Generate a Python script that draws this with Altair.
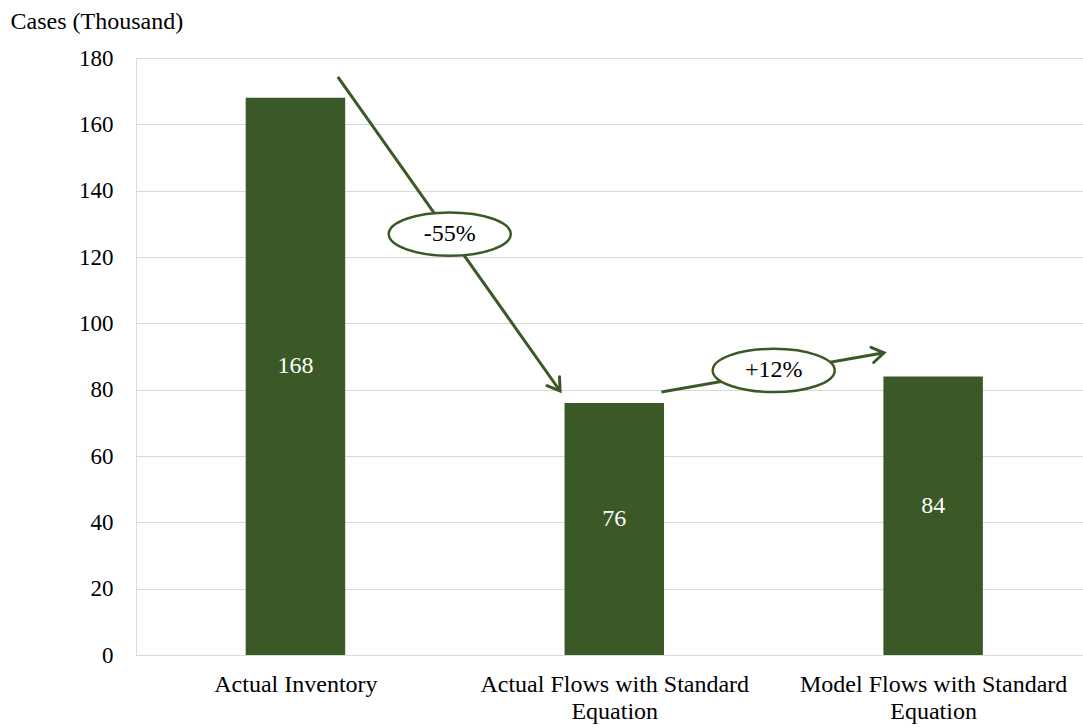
import math
import altair as alt
import pandas as pd

# Bar categories and values (thousand cases)
categories = ["Actual Inventory", "Actual Flows with Standard\nEquation", "Model Flows with Standard\nEquation"]
values = [168, 76, 84]

# Change annotations: arrow start/end points and label bubbles
arrow_x1 = [0.633, 1.648]
arrow_y1 = [174.3, 79.3]
arrow_x2 = [1.330, 2.346]
arrow_y2 = [79.6, 91.1]
bubble_x = [0.984, 2.0]
bubble_y = [126.9, 85.8]
bubble_text = ["-55%", "+12%"]

GREEN = "#3B5926"
GRID = "#d9d9d9"
FONT = "Liberation Serif"

W, H = 947, 597
X_DOMAIN = [0, 2.97]
Y_DOMAIN = [0, 180]
BAR_HALF = 0.156

px_x = W / (X_DOMAIN[1] - X_DOMAIN[0])
px_y = H / (Y_DOMAIN[1] - Y_DOMAIN[0])

centers = [i + 0.5 for i in range(len(categories))]
bars = pd.DataFrame({
    "x": [c - BAR_HALF for c in centers],
    "x2": [c + BAR_HALF for c in centers],
    "c": centers,
    "v": values,
    "half": [v / 2 for v in values],
    "label": [str(v) for v in values],
})

angles = []
for x1, y1, x2, y2 in zip(arrow_x1, arrow_y1, arrow_x2, arrow_y2):
    dx = (x2 - x1) * px_x
    dy_down = -(y2 - y1) * px_y
    angles.append(math.degrees(math.atan2(dx, -dy_down)) % 360)

arrows = pd.DataFrame({"x1": arrow_x1, "y1": arrow_y1, "x2": arrow_x2, "y2": arrow_y2, "angle": angles})
bubbles = pd.DataFrame({"x": bubble_x, "y": bubble_y, "t": bubble_text})

label_map = " : ".join(
    f"datum.value == {c} ? {[s for s in cat.split(chr(10))]!r}" for c, cat in zip(centers, categories)
) + " : ''"

x_scale = alt.Scale(domain=X_DOMAIN, nice=False, zero=False)
y_scale = alt.Scale(domain=Y_DOMAIN, nice=False)

x_axis = alt.Axis(
    values=centers, labelExpr=label_map, grid=False, ticks=False,
    domainColor=GRID, domainWidth=1, labelFont=FONT, labelFontSize=24,
    labelColor="black", labelPadding=17, labelLineHeight=27, labelLimit=0,
    labelBaseline="top", title=None, labelFlush=False, labelOverlap=False,
)
y_axis = alt.Axis(
    values=list(range(0, 181, 20)), grid=True, gridColor=GRID, gridWidth=1,
    domain=False, ticks=False, labelFont=FONT, labelFontSize=23,
    labelColor="black", labelPadding=23,
    title="Cases (Thousand)", titleAngle=0, titleAlign="left",
    titleBaseline="alphabetic", titleX=-126, titleY=-30,
    titleFont=FONT, titleFontSize=24, titleFontWeight="normal", titleColor="black",
)

bar_layer = alt.Chart(bars).mark_rect(color=GREEN).encode(
    x=alt.X("x:Q", scale=x_scale, axis=x_axis),
    x2="x2:Q",
    y=alt.Y("v:Q", scale=y_scale, axis=y_axis),
    y2=alt.datum(0),
)

bar_text = alt.Chart(bars).mark_text(
    font=FONT, fontSize=24, color="white", baseline="middle", dy=-10
).encode(x="c:Q", y="half:Q", text="label:N")

arrow_lines = alt.Chart(arrows).mark_rule(color=GREEN, strokeWidth=3).encode(
    x="x1:Q", y="y1:Q", x2="x2:Q", y2="y2:Q"
)

arrow_heads = alt.Chart(arrows).mark_point(
    shape="M -0.55 0.85 L 0 0 L 0.55 0.85", filled=False, size=784,
    color=GREEN, strokeWidth=3, opacity=1, strokeCap="round", strokeJoin="miter",
).encode(x="x2:Q", y="y2:Q", angle=alt.Angle("angle:Q", scale=None))

ellipses = alt.Chart(bubbles).mark_point(
    shape="M -1 0 A 1 0.355 0 1 0 1 0 A 1 0.355 0 1 0 -1 0 Z",
    size=14884, filled=True, fill="white", stroke=GREEN, strokeWidth=2.5, opacity=1,
).encode(x="x:Q", y="y:Q")

bubble_labels = alt.Chart(bubbles).mark_text(
    font=FONT, fontSize=24, color="black", baseline="middle"
).encode(x="x:Q", y="y:Q", text="t:N")

chart = alt.layer(
    bar_layer, bar_text, arrow_lines, arrow_heads, ellipses, bubble_labels
).properties(
    width=W, height=H,
    autosize=alt.AutoSizeParams(type="none"),
    padding={"left": 136, "top": 58, "right": 0, "bottom": 72},
).configure_view(stroke=None).configure(background="white")

chart.save("out.html", embed_options={"renderer": "svg", "actions": False})
